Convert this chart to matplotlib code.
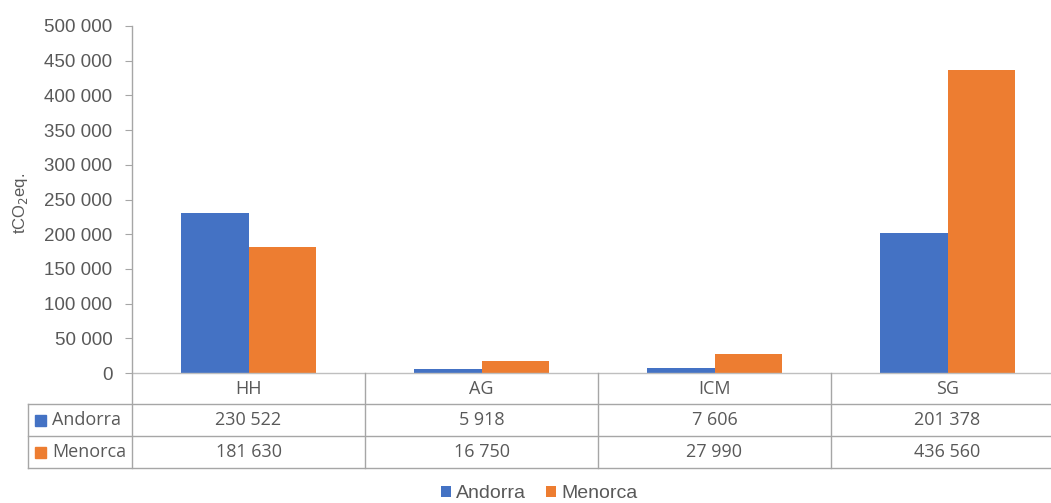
import matplotlib
matplotlib.use("Agg")
import matplotlib.pyplot as plt
from matplotlib.patches import Rectangle
import numpy as np

categories = ["HH", "AG", "ICM", "SG"]
series_names = ["Andorra", "Menorca"]
andorra = [230522, 5918, 7606, 201378]
menorca = [181630, 16750, 27990, 436560]
yticks = [0, 50000, 100000, 150000, 200000, 250000, 300000, 350000, 400000, 450000, 500000]
colors = ["#4472C4", "#ED7D31"]

W, H = 1051, 503
fig = plt.figure(figsize=(W / 100, H / 100), dpi=100)

def fx(px):
    return px / W

def fy(py):
    return 1 - py / H

x0, x1 = 132, 1064
y_top, y_zero = 26, 373
ax = fig.add_axes([fx(x0), fy(y_zero), fx(x1) - fx(x0), fy(y_top) - fy(y_zero)])

x = np.arange(len(categories))
bw = 0.2876
ax.bar(x - bw / 2, andorra, bw, color=colors[0], label=series_names[0])
ax.bar(x + bw / 2, menorca, bw, color=colors[1], label=series_names[1])
ax.set_xlim(-0.5, len(categories) - 0.5)
ax.set_ylim(0, 500000)
ax.set_yticks(yticks)
ax.set_yticklabels([f"{v:,}".replace(",", " ") for v in yticks],
                   fontsize=13.5, color="#595959", family="Liberation Sans")
ax.tick_params(axis="y", length=5, color="#A6A6A6", pad=9)
ax.set_xticks([])
for s in ["top", "right"]:
    ax.spines[s].set_visible(False)
ax.spines["left"].set_visible(False)
ax.spines["bottom"].set_color("#BFBFBF")
ax.spines["bottom"].set_linewidth(1.0)

fig.text(fx(20), fy(203), "tCO$_2$eq.", rotation=90, ha="center", va="center",
         fontsize=12, color="#595959", family="Liberation Sans")

# table
lc = "#A6A6A6"
lw = 1.0
def hline(py, xa, xb):
    fig.add_artist(plt.Line2D([fx(xa), fx(xb)], [fy(py), fy(py)], color=lc, lw=lw))
def vline(px, ya, yb):
    fig.add_artist(plt.Line2D([fx(px), fx(px)], [fy(ya), fy(yb)], color=lc, lw=lw))

vline(x0, y_top, 468)
for r in [404, 436, 468]:
    hline(r, 28, x1)
vline(28, 404, 468)
cw = (x1 - x0) / len(categories)
for i in range(1, len(categories)):
    vline(x0 + i * cw, y_zero, 468)

tfont = dict(fontsize=13, color="#595959", family="Open Sans", ha="center", va="center")
for i, c in enumerate(categories):
    cx = x0 + (i + 0.5) * cw
    fig.text(fx(cx), fy(389), c, **tfont)
    fig.text(fx(cx), fy(420), f"{andorra[i]:,}".replace(",", " "), **tfont)
    fig.text(fx(cx), fy(452), f"{menorca[i]:,}".replace(",", " "), **tfont)

for j, (name, col, cy) in enumerate(zip(series_names, colors, [420, 452])):
    fig.add_artist(Rectangle((fx(35), fy(cy + 5.5)), fx(11), fy(cy - 5.5) - fy(cy + 5.5),
                             color=col, transform=fig.transFigure))
    fig.text(fx(52), fy(cy), name, fontsize=13, color="#595959", family="Open Sans",
             ha="left", va="center")

leg = fig.legend(loc="center", bbox_to_anchor=(fx(539), fy(494)), ncol=2, frameon=False,
                 prop={"family": "Liberation Sans", "size": 14}, handlelength=0.55,
                 handleheight=0.55, handletextpad=0.25, columnspacing=1.0,
                 labelcolor="#595959", borderpad=0)

fig.savefig("out.png", dpi=100)
